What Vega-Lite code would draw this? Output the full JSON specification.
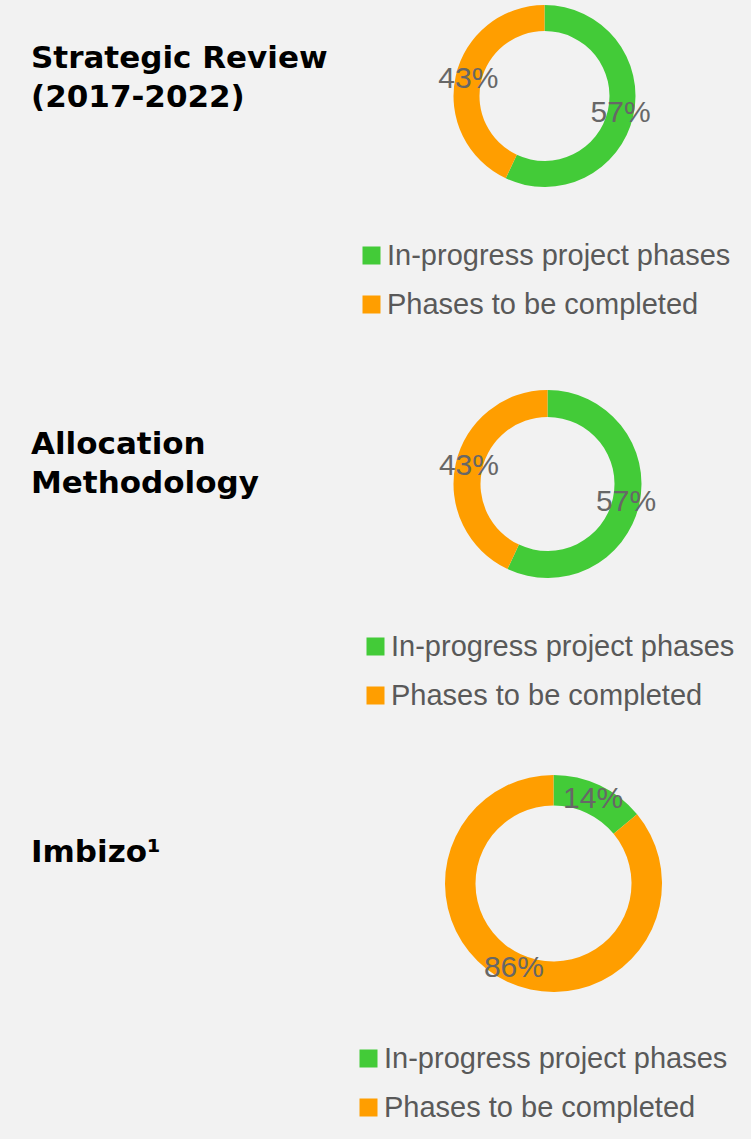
{
  "$schema": "https://vega.github.io/schema/vega-lite/v6.json",
  "background": "#f2f2f2",
  "padding": {"left": 31, "top": 0, "right": 0, "bottom": 18},
  "spacing": 0,
  "bounds": "flush",
  "resolve": {"scale": {"color": "independent", "theta": "independent"}, "legend": {"color": "independent"}},
  "config": {
    "view": {"stroke": null},
    "title": {
      "anchor": "start", "frame": "group", "orient": "top", "offset": 0,
      "baseline": "alphabetic", "dx": -325,
      "font": "DejaVu Sans", "fontWeight": "bold", "fontSize": 31, "lineHeight": 39, "color": "#000000"
    },
    "legend": {
      "labelFont": "Liberation Sans",
      "labelFontSize": 29,
      "labelColor": "#595959",
      "labelLimit": 0,
      "labelOffset": 1,
      "symbolType": "square",
      "symbolSize": 324,
      "symbolStrokeWidth": 0,
      "symbolOpacity": 1,
      "rowPadding": 19,
      "padding": 0
    }
  },
  "vconcat": [
    {
      "width": 377,
      "height": 192,
      "title": {"text": ["Strategic Review", "(2017-2022)"], "dy": 118},
      "data": {"values": [
        {"phase": "In-progress project phases", "share": 0.57},
        {"phase": "Phases to be completed", "share": 0.43}
      ]},
      "encoding": {
        "theta": {"field": "share", "type": "quantitative", "stack": true},
        "order": {"field": "phase", "type": "ordinal", "sort": "ascending"}
      },
      "layer": [
        {
          "mark": {"type": "arc", "innerRadius": 65, "outerRadius": 91},
          "encoding": {
            "color": {
              "field": "phase", "type": "nominal",
              "scale": {"domain": ["In-progress project phases", "Phases to be completed"], "range": ["#43CB38", "#FF9E00"]},
              "legend": {"title": null, "orient": "none", "legendX": 1, "legendY": 241}
            }
          }
        },
        {
          "mark": {"type": "text", "radius": 78, "font": "Liberation Sans", "fontSize": 30, "color": "#676767"},
          "encoding": {
            "detail": {"field": "phase", "type": "nominal"},
            "text": {"field": "share", "type": "quantitative", "format": ".0%"}
          }
        }
      ]
    },
    {
      "width": 383,
      "height": 584,
      "title": {"text": ["Allocation", "Methodology"], "dy": 312},
      "data": {"values": [
        {"phase": "In-progress project phases", "share": 0.57},
        {"phase": "Phases to be completed", "share": 0.43}
      ]},
      "encoding": {
        "theta": {"field": "share", "type": "quantitative", "stack": true},
        "order": {"field": "phase", "type": "ordinal", "sort": "ascending"}
      },
      "layer": [
        {
          "mark": {"type": "arc", "innerRadius": 67, "outerRadius": 94},
          "encoding": {
            "color": {
              "field": "phase", "type": "nominal",
              "scale": {"domain": ["In-progress project phases", "Phases to be completed"], "range": ["#43CB38", "#FF9E00"]},
              "legend": {"title": null, "orient": "none", "legendX": 5, "legendY": 440}
            }
          }
        },
        {
          "mark": {"type": "text", "radius": 80.5, "font": "Liberation Sans", "fontSize": 30, "color": "#676767"},
          "encoding": {
            "detail": {"field": "phase", "type": "nominal"},
            "text": {"field": "share", "type": "quantitative", "format": ".0%"}
          }
        }
      ]
    },
    {
      "width": 395,
      "height": 215,
      "title": {"text": "Imbizo¹", "dy": 98},
      "data": {"values": [
        {"phase": "In-progress project phases", "share": 0.14},
        {"phase": "Phases to be completed", "share": 0.86}
      ]},
      "encoding": {
        "theta": {"field": "share", "type": "quantitative", "stack": true},
        "order": {"field": "phase", "type": "ordinal", "sort": "ascending"}
      },
      "layer": [
        {
          "mark": {"type": "arc", "innerRadius": 78, "outerRadius": 108.5},
          "encoding": {
            "color": {
              "field": "phase", "type": "nominal",
              "scale": {"domain": ["In-progress project phases", "Phases to be completed"], "range": ["#43CB38", "#FF9E00"]},
              "legend": {"title": null, "orient": "none", "legendX": -2, "legendY": 268}
            }
          }
        },
        {
          "mark": {"type": "text", "radius": 93, "font": "Liberation Sans", "fontSize": 30, "color": "#676767"},
          "encoding": {
            "detail": {"field": "phase", "type": "nominal"},
            "text": {"field": "share", "type": "quantitative", "format": ".0%"}
          }
        }
      ]
    }
  ]
}
